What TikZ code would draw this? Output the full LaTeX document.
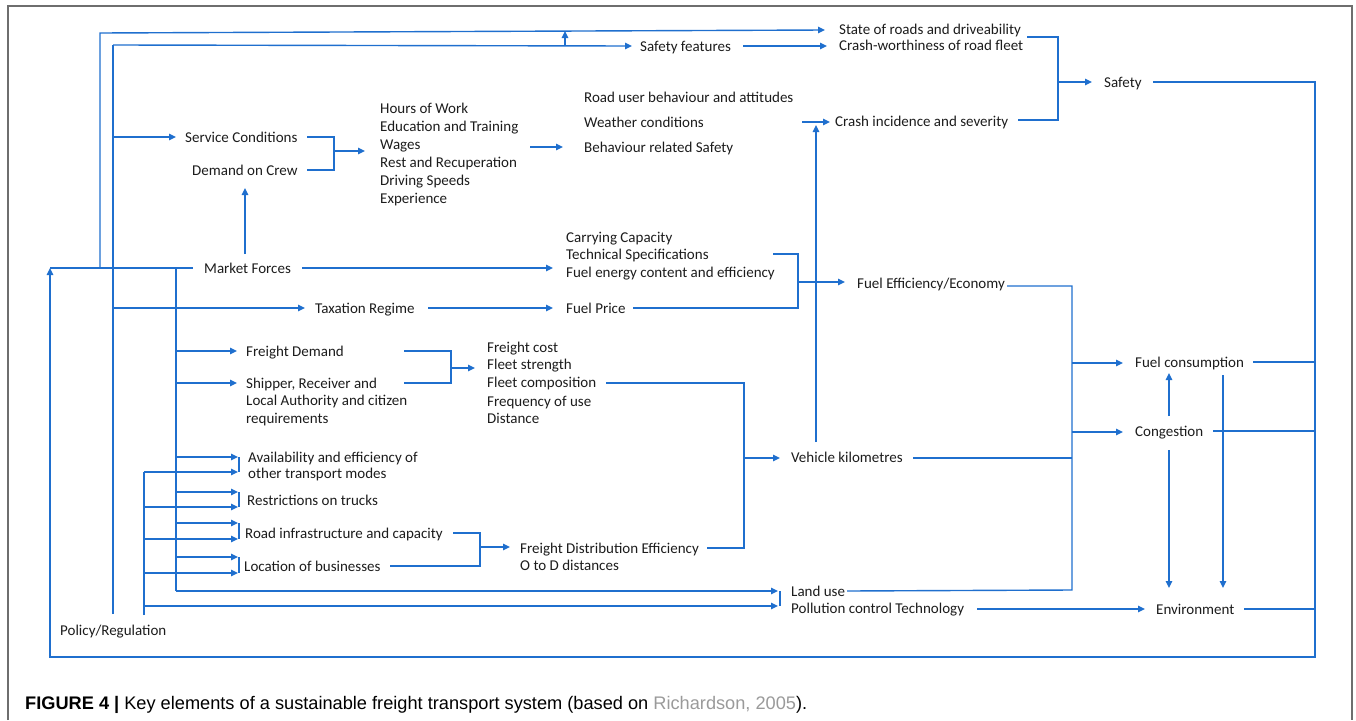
\documentclass[tikz,border=0pt]{standalone}
\usepackage{fontspec}
\setmainfont{Carlito}
\newfontfamily\capfont{Liberation Sans}
\usetikzlibrary{arrows.meta}
\definecolor{flow}{HTML}{1F6FCE}
\definecolor{ink}{HTML}{1C1C1C}
\definecolor{framegray}{HTML}{6E6E6E}
\definecolor{refgray}{HTML}{9A9A9A}

\begin{document}
\begin{tikzpicture}[x=1pt,y=-1pt,
  lbl/.style={anchor=base west, inner sep=0pt, text=ink, font=\fontsize{15}{18}\selectfont},
  wire/.style={draw=flow, line width=1.4pt, line join=miter},
  feed/.style={wire, -{Triangle[length=7pt,width=6.5pt]}},
  tick/.style={draw=flow, line width=1.1pt},
]
\useasboundingbox (0,0) rectangle (1356,720);

% page frame (open at the bottom)
\draw[framegray, line width=1.4pt] (8,720) -- (8,6) -- (1352,6) -- (1352,720);

% ---------- labels ----------
\node[lbl] (roads)   at (839,34)  {State of roads and driveability};
\node[lbl] (crashw)  at (839,50)  {Crash-worthiness of road fleet};
\node[lbl] (sfeat)   at (640,51)  {Safety features};
\node[lbl] (safety)  at (1104,87) {Safety};
\node[lbl] (crashi)  at (835,126) {Crash incidence and severity};
\node[lbl] (rub)     at (584,102) {Road user behaviour and attitudes};
\node[lbl] (weather) at (584,127) {Weather conditions};
\node[lbl] (brs)     at (584,152) {Behaviour related Safety};

\node[lbl] (hw1) at (380,113) {Hours of Work};
\node[lbl] (hw2) at (380,131) {Education and Training};
\node[lbl] (hw3) at (380,149) {Wages};
\node[lbl] (hw4) at (380,167) {Rest and Recuperation};
\node[lbl] (hw5) at (380,185) {Driving Speeds};
\node[lbl] (hw6) at (380,203) {Experience};

\node[lbl] (svc)    at (185,142) {Service Conditions};
\node[lbl] (crew)   at (192,175) {Demand on Crew};
\node[lbl] (market) at (204,273) {Market Forces};

\node[lbl] (cc1) at (566,242) {Carrying Capacity};
\node[lbl] (cc2) at (566,259) {Technical Specifications};
\node[lbl] (cc3) at (566,277) {Fuel energy content and efficiency};

\node[lbl] (tax)    at (315,313) {Taxation Regime};
\node[lbl] (fprice) at (566,313) {Fuel Price};
\node[lbl] (feff)   at (857,288) {Fuel Efficiency/Economy};

\node[lbl] (fdem) at (246,356) {Freight Demand};
\node[lbl] (sh1)  at (246,388) {Shipper, Receiver and};
\node[lbl] (sh2)  at (246,405) {Local Authority and citizen};
\node[lbl] (sh3)  at (246,423) {requirements};

\node[lbl] (fc1) at (487,352) {Freight cost};
\node[lbl] (fc2) at (487,369) {Fleet strength};
\node[lbl] (fc3) at (487,387) {Fleet composition};
\node[lbl] (fc4) at (487,406) {Frequency of use};
\node[lbl] (fc5) at (487,423) {Distance};

\node[lbl] (vkm)   at (791,462) {Vehicle kilometres};
\node[lbl] (fcons) at (1135,367) {Fuel consumption};
\node[lbl] (cong)  at (1135,436) {Congestion};
\node[lbl] (env)   at (1156,614) {Environment};

\node[lbl] (av1)   at (248,462) {Availability and efficiency of};
\node[lbl] (av2)   at (248,478) {other transport modes};
\node[lbl] (restr) at (247,505) {Restrictions on trucks};
\node[lbl] (road)  at (245,538) {Road infrastructure and capacity};
\node[lbl] (loc)   at (244,571) {Location of businesses};

\node[lbl] (fde) at (520,553) {Freight Distribution Efficiency};
\node[lbl] (otd) at (520,570) {O to D distances};

\node[lbl] (land)   at (791,596) {Land use};
\node[lbl] (pollut) at (791,613) {Pollution control Technology};
\node[lbl] (policy) at (60,635)  {Policy/Regulation};

% ---------- junction points ----------
\coordinate (topL)   at (100,33);
\coordinate (topR)   at (825,30);
\coordinate (secL)   at (113,45);
\coordinate (secR)   at (632,46);
\coordinate (secB)   at (113,614);
\coordinate (mkL)    at (193,268);
\coordinate (mkW)    at (100,268);
\coordinate (loopC)  at (50,268);
\coordinate (busX)   at (176,268);
\coordinate (busB)   at (176,591);
\coordinate (polT)   at (144,472);
\coordinate (polB)   at (144,615);

% ---------- policy / regulation trunks ----------
\draw[feed] (topL |- mkW) -- (topL) -- (topR);
\draw[wire] (secB) -- (secL);
\draw[feed] (secL) -- (secR);
\draw[feed] (565,46) -- (565,31);
\draw[feed] (743,46) -- (827,46);
\draw[feed] (113,137) -- (176,137);
\draw[feed] (113,308) -- (305,308);

% ---------- crew and behaviour ----------
\draw[wire] (307,137) -- (334,137) -- (334,170) -- (307,170);
\draw[feed] (334,151) -- (365,151);
\draw[feed] (530,147) -- (563,147);
\draw[feed] (245,254) -- (245,188);

% ---------- market forces ----------
\draw[wire] (loopC) -- (mkL);
\draw[feed] (302,268) -- (553,268);
\draw[wire] (busX) -- (busB);
\draw[feed] (busB) -- (778,591);
\foreach \yy in {351,383} \draw[feed] (176,\yy) -- (237,\yy);
\foreach \yy in {457,492,523,557} \draw[feed] (176,\yy) -- (238,\yy);
\draw[wire] (polB) -- (polT);
\foreach \yy in {472,507,539,573} \draw[feed] (144,\yy) -- (238,\yy);
\draw[feed] (144,606) -- (778,606);
% short bars joining paired arrow heads
\draw[tick] (239,457) -- (239,472);
\draw[tick] (239,492) -- (239,507);
\draw[tick] (239,523) -- (239,539);
\draw[tick] (239,557) -- (239,573);
\draw[tick] (780,591) -- (780,606);

% ---------- fuel price and efficiency ----------
\draw[feed] (428,308) -- (553,308);
\draw[wire] (633,308) -- (798,308) -- (798,254) -- (773,254);
\draw[feed] (798,282) -- (845,282);
\draw[wire] (1007,286) -- (1072,286) -- (1072,590) -- (847,591);
\draw[feed] (1072,363) -- (1123,363);
\draw[feed] (1072,432) -- (1123,432);
\draw[wire] (913,458) -- (1072,458);

% ---------- freight demand and vehicle km ----------
\draw[wire] (404,351) -- (451,351) -- (451,383) -- (404,383);
\draw[feed] (451,368) -- (475,368);
\draw[wire] (606,383) -- (744,383) -- (744,548) -- (707,548);
\draw[feed] (744,458) -- (780,458);
\draw[wire] (453,533) -- (480,533) -- (480,566) -- (390,566);
\draw[feed] (480,547) -- (510,547);
\draw[feed] (816,442) -- (816,125);

% ---------- safety ----------
\draw[feed] (802,122) -- (830,122);
\draw[wire] (1018,120) -- (1058,120) -- (1058,37) -- (1027,37);
\draw[feed] (1058,82) -- (1092,82);

% ---------- outcomes ----------
\draw[feed] (1169,416) -- (1169,373);
\draw[feed] (1169,450) -- (1169,588);
\draw[feed] (1223,375) -- (1223,588);
\draw[feed] (977,609) -- (1145,609);
\draw[wire] (1253,362) -- (1315,362);
\draw[wire] (1213,431) -- (1315,431);
\draw[wire] (1244,609) -- (1315,609);

% feedback loop back to market forces
\draw[feed] (1153,82) -- (1315,82) -- (1315,657) -- (50,657) -- (loopC);

% ---------- caption ----------
\node[anchor=base west, inner sep=0pt, text=black,
      font=\capfont\fontsize{18.2}{21}\selectfont] (caption) at (25,709)
  {\textbf{FIGURE 4 |} Key elements of a sustainable freight transport system (based on \textcolor{refgray}{Richardson, 2005}).};
\end{tikzpicture}
\end{document}
